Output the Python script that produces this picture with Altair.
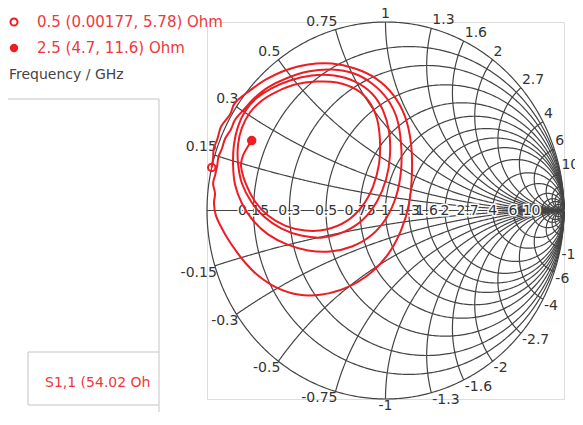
import altair as alt
import numpy as np
import pandas as pd

# ---------------- values ----------------
Z0 = 50.0
r_values = [0.15, 0.3, 0.5, 0.75, 1, 1.3, 1.6, 2, 2.7, 4, 6, 10]
x_values = [0.15, 0.3, 0.5, 0.75, 1, 1.3, 1.6, 2, 2.7, 4, 6, 10]
dense_values = [15, 20, 30, 50, 100]   # extra unlabelled grid lines near the open-circuit point
r_tick_labels = ["0.15", "0.3", "0.5", "0.75", "1", "1.3", "1.6", "2", "2.7", "4", "6", "10"]
x_tick_labels = ["0.15", "0.3", "0.5", "0.75", "1", "1.3", "1.6", "2", "2.7", "4", "6", "10"]

marker_freq = ["0.5", "2.5"]
marker_R = [0.00177, 4.7]
marker_X = [5.78, 11.6]
trace_name = "S1,1 (54.02 Ohm)"

# S1,1 trace (reflection coefficient, real / imaginary part)
trace_re = [-0.974, -0.966, -0.962, -0.941, -0.921, -0.871, -0.842, -0.759, -0.669, -0.563,
            -0.434, -0.300, -0.171, -0.053, 0.042, 0.109, 0.143, 0.148, 0.132, 0.087,
            0.014, -0.087, -0.216, -0.356, -0.490, -0.613, -0.714, -0.787, -0.843, -0.888,
            -0.922, -0.950, -0.961, -0.955, -0.966, -0.955, -0.944, -0.935, -0.916, -0.898,
            -0.866, -0.842, -0.793, -0.737, -0.658, -0.557, -0.434, -0.300, -0.176, -0.076,
            0.008, 0.064, 0.087, 0.087, 0.059, 0.003, -0.081, -0.188, -0.311, -0.434,
            -0.552, -0.658, -0.742, -0.804, -0.843, -0.854, -0.849, -0.826, -0.787, -0.725,
            -0.641, -0.535, -0.412, -0.288, -0.171, -0.076, -0.014, 0.020, 0.025, 0.003,
            -0.048, -0.126, -0.227, -0.350, -0.473, -0.585, -0.681, -0.753, -0.804, -0.826,
            -0.826, -0.804, -0.759, -0.692, -0.608, -0.507, -0.389, -0.272, -0.165, -0.092,
            -0.048, -0.031, -0.036, -0.070, -0.132, -0.221, -0.333, -0.451, -0.563, -0.658,
            -0.731, -0.781, -0.809, -0.798, -0.750]
trace_im = [0.228, 0.276, 0.329, 0.382, 0.446, 0.509, 0.573, 0.637, 0.695, 0.743,
            0.775, 0.780, 0.753, 0.700, 0.615, 0.499, 0.355, 0.196, 0.037, -0.106,
            -0.233, -0.334, -0.408, -0.446, -0.446, -0.408, -0.345, -0.276, -0.207, -0.143,
            -0.085, -0.027, 0.037, 0.090, 0.143, 0.186, 0.233, 0.286, 0.329, 0.382,
            0.430, 0.483, 0.536, 0.594, 0.653, 0.700, 0.737, 0.748, 0.727, 0.674,
            0.594, 0.488, 0.355, 0.212, 0.074, -0.042, -0.133, -0.191, -0.218, -0.212,
            -0.180, -0.127, -0.053, 0.037, 0.138, 0.244, 0.350, 0.446, 0.525, 0.594,
            0.647, 0.690, 0.716, 0.716, 0.684, 0.621, 0.531, 0.419, 0.292, 0.164,
            0.048, -0.048, -0.111, -0.143, -0.133, -0.095, -0.032, 0.048, 0.143, 0.249,
            0.350, 0.440, 0.520, 0.584, 0.631, 0.668, 0.684, 0.679, 0.642, 0.578,
            0.488, 0.371, 0.249, 0.127, 0.021, -0.058, -0.101, -0.106, -0.080, -0.027,
            0.048, 0.138, 0.233, 0.292, 0.371]
assert len(trace_re) == len(trace_im)

# ---------------- derived tables ----------------
def gamma(z):
    return (z - 1) / (z + 1)

rows = []
cid = 0
t = np.linspace(-np.pi / 2 + 1e-3, np.pi / 2 - 1e-3, 500)
for r in [0] + r_values + dense_values:
    g = gamma(r + 1j * np.tan(t))
    for k, v in enumerate(g):
        rows.append((cid, k, v.real, v.imag))
    cid += 1
s = np.linspace(0, np.pi / 2 - 1e-3, 400)
for xv in [0] + x_values + dense_values:
    for sign in ([1] if xv == 0 else [1, -1]):
        g = gamma(np.tan(s) + 1j * sign * xv)
        for k, v in enumerate(g):
            rows.append((cid, k, v.real, v.imag))
        cid += 1
grid_df = pd.DataFrame(rows, columns=["curve", "k", "gx", "gy"])

# real-axis (resistance) labels
rl = [gamma(r) for r in r_values]
rlab_df = pd.DataFrame({"gx": rl, "gy": [0.0] * len(rl), "label": r_tick_labels})

# rim (reactance) labels
olab = []
for xv, lab in zip(x_values, x_tick_labels):
    for sign in (1, -1):
        g = gamma(1j * sign * xv)
        side = "C" if abs(g.real) < 0.05 else ("L" if g.real < 0 else "R")
        olab.append((g.real, g.imag, lab if sign > 0 else "-" + lab, side, sign))
olab_df = pd.DataFrame(olab, columns=["gx", "gy", "label", "side", "sgn"])

trace_df = pd.DataFrame({"gx": trace_re, "gy": trace_im, "k": range(len(trace_re))})

mk = [gamma(complex(R, X) / Z0) for R, X in zip(marker_R, marker_X)]
mk_df = pd.DataFrame({"gx": [m.real for m in mk], "gy": [m.imag for m in mk], "f": marker_freq})

# ---------------- chart ----------------
W, H = 357, 377
RED = "#ee1d23"
TXT_RED = "#f0383c"
GRID = "#444444"
FONT = "DejaVu Sans"

xs = alt.Scale(domain=[-1, 1], nice=False, zero=False)
ys = alt.Scale(domain=[-1, 1], nice=False, zero=False)
X = alt.X("gx:Q", scale=xs, axis=None)
Y = alt.Y("gy:Q", scale=ys, axis=None)

grid = alt.Chart(grid_df).mark_line(color=GRID, strokeWidth=1.2).encode(
    x=X, y=Y, detail="curve:N", order="k:Q")

rlab_base = alt.Chart(rlab_df).encode(x=X, y=Y, text="label:N")
rlab_halo = rlab_base.mark_text(font=FONT, fontSize=14, stroke="white", strokeWidth=3,
                                fill="white", align="center", baseline="middle")
rlab_txt = rlab_base.mark_text(font=FONT, fontSize=14, color="#333333",
                               align="center", baseline="middle")

olab_layers = []
for side, align, dx in (("L", "right", 2), ("C", "center", 0), ("R", "left", 1)):
    for sgn, dy in ((1, -8), (-1, 7)):
        olab_layers.append(
            alt.Chart(olab_df).transform_filter(
                (alt.datum.side == side) & (alt.datum.sgn == sgn)
            ).mark_text(font=FONT, fontSize=14, color="#333333", align=align,
                        baseline="middle", dx=dx, dy=dy).encode(x=X, y=Y, text="label:N"))

trace = alt.Chart(trace_df).mark_line(color=RED, strokeWidth=2, interpolate="cardinal").encode(
    x=X, y=Y, order="k:Q")

m_open = alt.Chart(mk_df).transform_filter(alt.datum.f == marker_freq[0]).mark_point(
    shape="circle", filled=False, color=RED, strokeWidth=2, size=55, opacity=1).encode(x=X, y=Y)
m_full = alt.Chart(mk_df).transform_filter(alt.datum.f == marker_freq[1]).mark_point(
    shape="circle", filled=True, color=RED, size=90, opacity=1).encode(x=X, y=Y)

# legend / side panel (pixel positions relative to the plot origin)
one = pd.DataFrame({"a": [0]})
leg_open = alt.Chart(one).mark_point(shape="circle", filled=False, color=RED, strokeWidth=2,
                                     size=50, opacity=1).encode(x=alt.value(-193), y=alt.value(0))
leg_full = alt.Chart(one).mark_point(shape="circle", filled=True, color=RED, size=70,
                                     opacity=1).encode(x=alt.value(-193), y=alt.value(26))
leg_txt = []
for i, yy in enumerate((0, 26)):
    s_ = f"{marker_freq[i]}  ({marker_R[i]}, {marker_X[i]}) Ohm"
    leg_txt.append(alt.Chart(pd.DataFrame({"t": [s_]})).mark_text(
        font=FONT, fontSize=15, color=TXT_RED, align="left", baseline="middle").encode(
        x=alt.value(-170), y=alt.value(yy), text="t:N"))
freq_txt = alt.Chart(pd.DataFrame({"t": ["Frequency / GHz"]})).mark_text(
    font=FONT, fontSize=14, color="#444444", align="left", baseline="middle").encode(
    x=alt.value(-198), y=alt.value(53), text="t:N")

panel_h = alt.Chart(one).mark_rule(color="#c4c4c4", strokeWidth=1).encode(
    x=alt.value(-201), x2=alt.value(-48), y=alt.value(77))
panel_v1 = alt.Chart(one).mark_rule(color="#c4c4c4", strokeWidth=1).encode(
    x=alt.value(-48), y=alt.value(77), y2=alt.value(330))
panel_v2 = alt.Chart(one).mark_rule(color="#c4c4c4", strokeWidth=1).encode(
    x=alt.value(-48), y=alt.value(383), y2=alt.value(420))
box = alt.Chart(one).mark_rect(fill="white", stroke="#c4c4c4", strokeWidth=1).encode(
    x=alt.value(-179), x2=alt.value(-48), y=alt.value(330), y2=alt.value(383))
box_txt = alt.Chart(pd.DataFrame({"t": [trace_name]})).mark_text(
    font=FONT, fontSize=14, color=TXT_RED, align="left", baseline="middle",
    limit=113, ellipsis=" ").encode(x=alt.value(-162), y=alt.value(361), text="t:N")

chart = alt.layer(
    panel_h, panel_v1, panel_v2, box, box_txt,
    grid, rlab_halo, rlab_txt, *olab_layers,
    trace, m_open, m_full,
    leg_open, leg_full, *leg_txt, freq_txt,
).properties(
    width=W, height=H,
    padding={"left": 199, "top": 14, "right": 11, "bottom": 13},
    autosize=alt.AutoSizeParams(type="none"),
).configure_view(stroke=None).configure(background="white")

chart.save("out.html", embed_options={"renderer": "svg", "actions": False})
